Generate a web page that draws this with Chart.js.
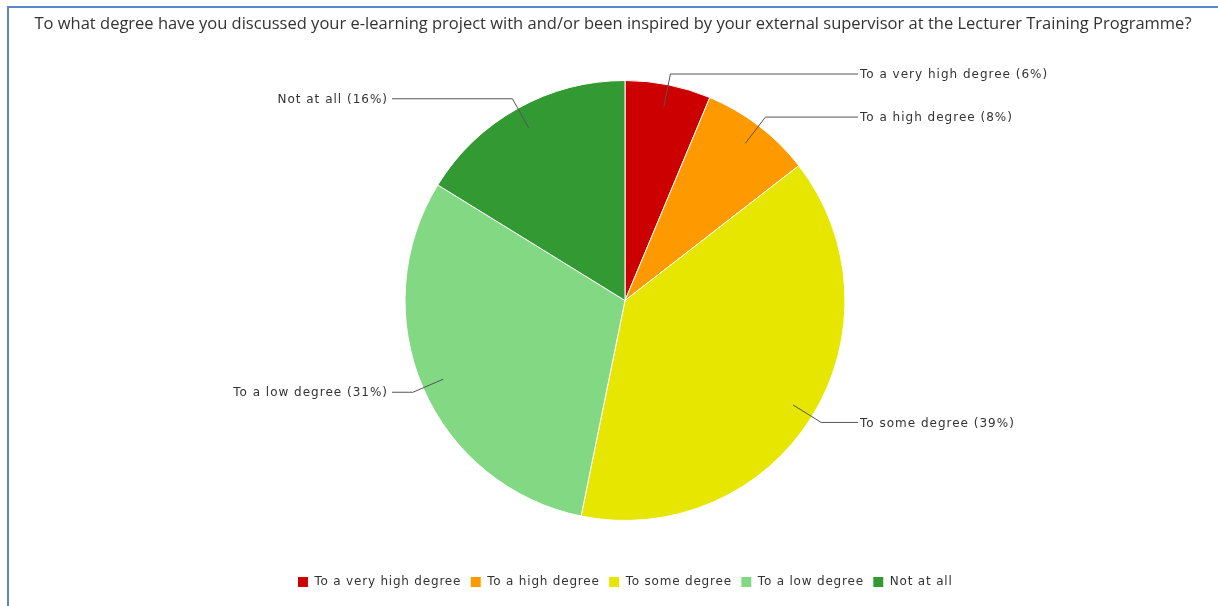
<!DOCTYPE html>
<html>
<head>
<meta charset="utf-8">
<script src="https://cdn.jsdelivr.net/npm/chart.js@4/dist/chart.umd.min.js"></script>
<style>
  html, body { margin: 0; padding: 0; background: #fff; }
  #wrap { position: relative; width: 1218px; height: 606px; }
  #frame { position: absolute; left: 7px; top: 6px; right: 0; bottom: 0;
           border-left: 2px solid #5b87c6; border-top: 2px solid #5b87c6; pointer-events: none; }
</style>
</head>
<body>
<div id="wrap">
  <canvas id="pie" width="1218" height="606"></canvas>
  <div id="frame"></div>
</div>
<script>
var title = 'To what degree have you discussed your e-learning project with and/or been inspired by your external supervisor at the Lecturer Training Programme?';
var categories = ['To a very high degree', 'To a high degree', 'To some degree', 'To a low degree', 'Not at all'];
var shares = [6.3, 8.2, 38.7, 30.6, 16.2];
var colors = ['#cc0000', '#ff9900', '#e6e600', '#83d983', '#339933'];
var labelFont = '"DejaVu Sans", Verdana, sans-serif';

// title + callout labels with leader lines
var callouts = {
    id: 'callouts',
    beforeLayout: function (chart) {
        // wider, Verdana-like spacing for legend text (measured and drawn)
        chart.ctx.letterSpacing = '0.8px';
    },
    beforeDraw: function (chart) {
        chart.ctx.letterSpacing = '0.8px';
    },
    afterDraw: function (chart) {
        var ctx = chart.ctx;
        ctx.save();
        ctx.letterSpacing = '0px';
        ctx.font = '16.5px "Open Sans"';
        ctx.fillStyle = '#333';
        ctx.textAlign = 'center';
        ctx.textBaseline = 'middle';
        ctx.fillText(title, 613, 24);

        var meta = chart.getDatasetMeta(0);
        var total = shares.reduce(function (a, b) { return a + b; }, 0);
        ctx.letterSpacing = '1px';
        ctx.font = '12px ' + labelFont;
        ctx.strokeStyle = '#555';
        ctx.lineWidth = 1;
        meta.data.forEach(function (arc, i) {
            var mid = (arc.startAngle + arc.endAngle) / 2;
            var r = arc.outerRadius;
            var c = Math.cos(mid), s = Math.sin(mid);
            var x1 = arc.x + c * r * 0.9, y1 = arc.y + s * r * 0.9;
            var x2 = arc.x + c * r * 1.05, y2 = arc.y + s * r * 1.05;
            var right = c >= 0;
            var x3 = arc.x + (right ? 1 : -1) * (r + 13);
            ctx.beginPath();
            ctx.moveTo(x1, y1);
            ctx.lineTo(x2, y2);
            ctx.lineTo(x3, y2);
            ctx.stroke();
            var pct = Math.round(shares[i] / total * 100);
            ctx.textAlign = right ? 'left' : 'right';
            ctx.fillText(categories[i] + ' (' + pct + '%)', x3 + (right ? 2 : -4), y2 + 1);
        });
        ctx.restore();
    }
};

new Chart(document.getElementById('pie').getContext('2d'), {
    type: 'pie',
    data: {
        labels: categories,
        datasets: [{
            data: shares,
            backgroundColor: colors,
            borderColor: '#ffffff',
            borderWidth: 1
        }]
    },
    options: {
        responsive: false,
        animation: false,
        radius: 220,
        layout: { padding: { left: 32, right: 0, top: 34, bottom: 8 } },
        plugins: {
            title: { display: false },
            tooltip: { enabled: false },
            legend: {
                position: 'bottom',
                labels: {
                    boxWidth: 11,
                    boxHeight: 11,
                    padding: 9,
                    color: '#333',
                    font: { family: labelFont, size: 12 }
                }
            }
        }
    },
    plugins: [callouts]
});
</script>
</body>
</html>
